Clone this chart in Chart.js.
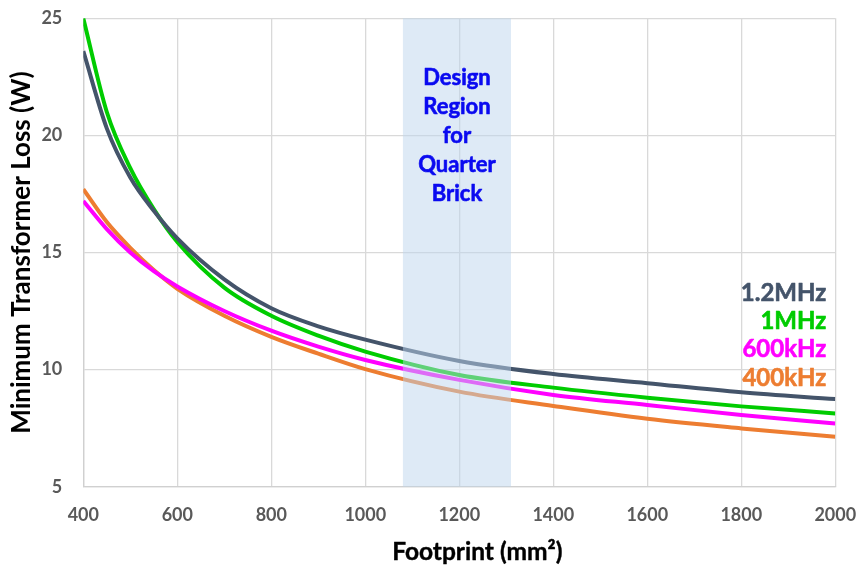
<!DOCTYPE html>
<html>
<head>
<meta charset="utf-8">
<script src="https://cdn.jsdelivr.net/npm/chart.js@4"></script>
<style>
  html, body { margin: 0; padding: 0; background: #ffffff; }
  #wrap { width: 859px; height: 567px; }
</style>
</head>
<body>
<div id="wrap"><canvas id="chart" width="859" height="567"></canvas></div>
<script>
// Footprint (mm²) sample points and minimum transformer loss (W) per switching frequency
const footprint  = [400, 450, 500, 550, 600, 700, 800, 900, 1000, 1200, 1400, 1600, 1800, 2000];
const loss12MHz  = [23.6, 20.3, 18.2, 16.78, 15.6, 13.85, 12.62, 11.85, 11.28, 10.37, 9.81, 9.42, 9.03, 8.74];
const loss1MHz   = [25.0, 21.0, 18.6, 16.85, 15.45, 13.5, 12.3, 11.45, 10.77, 9.77, 9.23, 8.8, 8.43, 8.13];
const loss600kHz = [17.2, 16.0, 15.0, 14.2, 13.55, 12.5, 11.66, 10.98, 10.41, 9.56, 8.92, 8.49, 8.06, 7.7];
const loss400kHz = [17.7, 16.3, 15.2, 14.25, 13.45, 12.3, 11.4, 10.68, 10.02, 9.06, 8.45, 7.9, 7.49, 7.13];

const seriesNames  = ['1.2MHz', '1MHz', '600kHz', '400kHz'];
const seriesColors = ['#44546a', '#00cc00', '#ff00ff', '#ed7d31'];

const xTickValues = [400, 600, 800, 1000, 1200, 1400, 1600, 1800, 2000];
const yTickValues = [5, 10, 15, 20, 25];

// Footprint band of the quarter-brick design region
const designRegion = [1080, 1310];
const regionLabel  = ['Design', 'Region', 'for', 'Quarter', 'Brick'];

const xTitle = 'Footprint (mm²)';
const yTitle = 'Minimum Transformer Loss (W)';

const FONT = 'Lato, "Open Sans", sans-serif';

function pairs(values) {
  return footprint.map((x, i) => ({ x: x, y: values[i] }));
}

// Bold text with a hairline stroke so it reads as heavy as the axis labels
function heavyText(ctx, text, x, y, color, stroke) {
  ctx.fillStyle = color;
  ctx.fillText(text, x, y);
  ctx.strokeStyle = color;
  ctx.lineWidth = stroke;
  ctx.lineJoin = 'round';
  ctx.strokeText(text, x, y);
}

// Fixed axis thickness, no extra label padding around the plot
function fixScale(size, horizontal) {
  return s => {
    if (horizontal) s.height = size; else s.width = size;
    s.paddingTop = 0; s.paddingBottom = 0; s.paddingLeft = 0; s.paddingRight = 0;
  };
}

// Shaded design band (over the curves) with its caption
const regionPlugin = {
  id: 'designRegion',
  afterDatasetsDraw(chart) {
    const { ctx, chartArea, scales } = chart;
    const x0 = scales.x.getPixelForValue(designRegion[0]);
    const x1 = scales.x.getPixelForValue(designRegion[1]);
    ctx.save();
    ctx.fillStyle = 'rgba(189, 214, 238, 0.5)';
    ctx.fillRect(x0, chartArea.top, x1 - x0, chartArea.bottom - chartArea.top);
    ctx.font = 'bold 22px ' + FONT;
    ctx.textAlign = 'center';
    ctx.textBaseline = 'middle';
    const cx = (x0 + x1) / 2;
    const firstY = scales.y.getPixelForValue(22.45);
    regionLabel.forEach((line, i) => heavyText(ctx, line, cx, firstY + i * 29, '#0a0af0', 0.6));
    ctx.restore();
  }
};

// Series names stacked at the right end of the curves, plus the x-axis title
const labelsPlugin = {
  id: 'seriesLabels',
  afterDraw(chart) {
    const { ctx, chartArea, scales } = chart;
    ctx.save();
    ctx.font = 'bold 24px ' + FONT;
    ctx.textAlign = 'right';
    ctx.textBaseline = 'middle';
    const right = chartArea.right - 9;
    const topY = scales.y.getPixelForValue(13.27);
    seriesNames.forEach((name, i) => {
      heavyText(ctx, name, right, topY + i * 28.3, seriesColors[i], 0.6);
    });
    ctx.font = 'bold 24.5px ' + FONT;
    ctx.textAlign = 'center';
    heavyText(ctx, xTitle, (chartArea.left + chartArea.right) / 2 + 18, chart.height - 15, '#000000', 0.4);
    ctx.restore();
  }
};

function draw() {
  const series = [loss12MHz, loss1MHz, loss600kHz, loss400kHz];
  new Chart(document.getElementById('chart'), {
    type: 'line',
    data: {
      datasets: series.map((vals, i) => ({
        label: seriesNames[i],
        data: pairs(vals),
        borderColor: seriesColors[i],
        backgroundColor: seriesColors[i],
        borderWidth: 4,
        pointRadius: 0,
        fill: false,
        cubicInterpolationMode: 'monotone'
      }))
    },
    options: {
      responsive: false,
      animation: false,
      devicePixelRatio: 1,
      layout: { autoPadding: false, padding: { top: 18.3, right: 23.7, left: 0, bottom: 0 } },
      plugins: { legend: { display: false }, tooltip: { enabled: false } },
      scales: {
        x: {
          type: 'linear',
          min: 400,
          max: 2000,
          afterBuildTicks: s => { s.ticks = xTickValues.map(v => ({ value: v })); },
          afterFit: fixScale(80.3, true),
          grid: { color: '#d9d9d9', lineWidth: 1.3, drawTicks: false },
          border: { color: '#d0d0d0', width: 1.3 },
          ticks: {
            padding: 18,
            maxRotation: 0,
            color: '#595959',
            callback: v => String(v),
            font: { family: FONT, size: 18, weight: 'bold' }
          }
        },
        y: {
          type: 'linear',
          min: 5,
          max: 25,
          afterBuildTicks: s => { s.ticks = yTickValues.map(v => ({ value: v })); },
          afterFit: fixScale(83.3, false),
          grid: { color: '#d9d9d9', lineWidth: 1.3, drawTicks: false },
          border: { color: '#d0d0d0', width: 1.3 },
          ticks: {
            padding: 21,
            color: '#595959',
            callback: v => String(v),
            font: { family: FONT, size: 18, weight: 'bold' }
          },
          title: {
            display: true,
            text: yTitle,
            color: '#000000',
            padding: { top: 6.4, bottom: 0 },
            font: { family: FONT, size: 26, weight: 'bold' }
          }
        }
      }
    },
    plugins: [regionPlugin, labelsPlugin]
  });
}

if (document.fonts && document.fonts.load) {
  Promise.all([
    document.fonts.load('bold 20px Lato'),
    document.fonts.load('bold 17px Lato')
  ]).then(draw, draw);
} else {
  draw();
}
</script>
</body>
</html>
